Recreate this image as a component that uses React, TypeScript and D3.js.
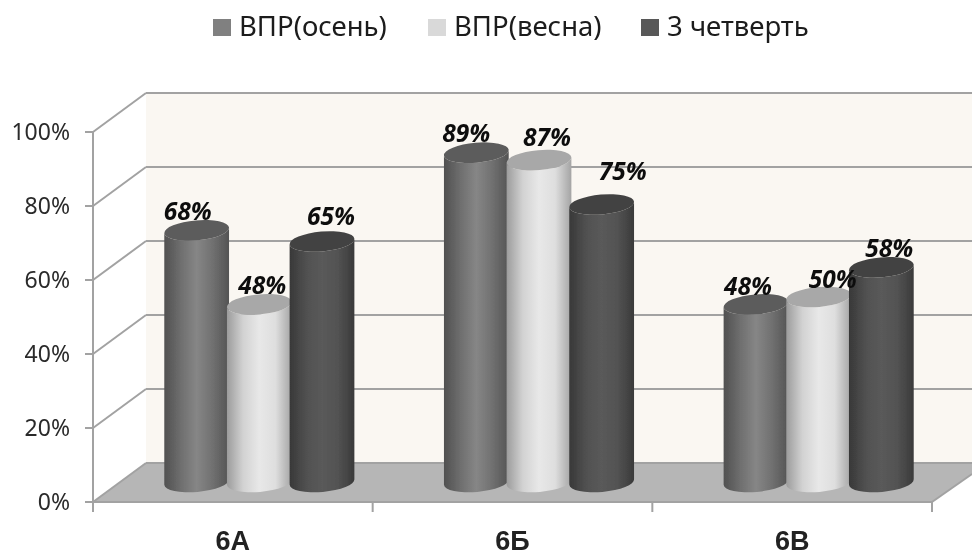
import React from "react";
import * as d3 from "d3";

const categories = ["6А", "6Б", "6В"];
const seriesNames = ["ВПР(осень)", "ВПР(весна)", "3 четверть"];
const autumn = [68, 89, 48];
const spring = [48, 87, 50];
const quarter = [65, 75, 58];
const yTicks = [0, 20, 40, 60, 80, 100];

const W = 972, H = 556;
const frontLeft = 93, frontRight = 932, frontBottom = 502, frontTop = 132;
const depthX = 53, depthY = 39;
const lineColor = "#a2a2a2";
const uiFont = "'Noto Sans', 'Open Sans', sans-serif";

const x = d3.scaleBand<string>().domain(categories).range([frontLeft, frontRight]);
const yFront = d3.scaleLinear().domain([0, 100]).range([frontBottom, frontTop]);
const yBar = d3.scaleLinear().domain([0, 100]).range([482, 112]);
const offset = d3.scaleBand<number>().domain([0, 1, 2]).range([-94, 94]);

const palettes = [
  { id: "g0", stops: ["#505050", "#6e6e6e", "#868686", "#707070", "#545454"], top: "#5c5c5c", legend: "#808080" },
  { id: "g1", stops: ["#9c9c9c", "#d2d2d2", "#e8e8e8", "#dedede", "#a4a4a4"], top: "#a8a8a8", legend: "#d9d9d9" },
  { id: "g2", stops: ["#383838", "#505050", "#5a5a5a", "#525252", "#3a3a3a"], top: "#434343", legend: "#595959" },
];
// label placement relative to the cylinder top [series][category]
const nudgeX = [[-9, -10, -8], [3, 8, 14], [9, 21, 8]];
const nudgeY = [[-19, -20, -18], [-19, -23, -18], [-25, -33, -19]];
const legendX = [213, 428, 641];
const rx = 32.5, ry = 10, tilt = -5;

export default function App() {
  const all = [autumn, spring, quarter];
  const pct = d3.format(".0f");
  const backY = (v: number) => yFront(v) - depthY;
  const floor = d3.line()([
    [frontLeft, frontBottom], [frontLeft + depthX, frontBottom - depthY],
    [W, frontBottom - depthY], [W, 474], [frontRight, frontBottom],
  ]) + "Z";
  const wall = d3.line()([
    [frontLeft + depthX, backY(100)], [W, backY(100)], [W, backY(0)], [frontLeft + depthX, backY(0)],
  ]) + "Z";
  return (
    <svg width={W} height={H} style={{ position: "absolute", left: 0, top: 0, background: "#fff" }}>
      <defs>
        {palettes.map((p) => (
          <linearGradient key={p.id} id={p.id} x1="0" x2="1" y1="0" y2="0">
            {p.stops.map((s, i) => <stop key={i} offset={i / (p.stops.length - 1)} stopColor={s} />)}
          </linearGradient>
        ))}
        <filter id="soft" x="-5%" y="-5%" width="110%" height="110%">
          <feGaussianBlur stdDeviation="0.6" />
        </filter>
        <filter id="softText" x="-10%" y="-10%" width="120%" height="120%">
          <feGaussianBlur stdDeviation="0.35" />
        </filter>
      </defs>
      <g filter="url(#soft)">
        <path d={wall} fill="#faf7f2" />
        <path d={floor} fill="#b6b6b6" />
        {yTicks.map((t) => (
          <g key={t} stroke={lineColor} strokeWidth={2} fill="none">
            <line x1={frontLeft} y1={yFront(t)} x2={frontLeft + depthX} y2={backY(t)} />
            <line x1={frontLeft + depthX} y1={backY(t)} x2={W} y2={backY(t)} />
            <line x1={frontLeft - 8} y1={yFront(t)} x2={frontLeft} y2={yFront(t)} />
          </g>
        ))}
        <line x1={frontLeft} y1={frontTop} x2={frontLeft} y2={frontBottom + 10} stroke={lineColor} strokeWidth={2} />
        <line x1={frontLeft} y1={frontBottom} x2={frontRight} y2={frontBottom} stroke={lineColor} strokeWidth={2} />
        <line x1={frontRight} y1={frontBottom} x2={W} y2={474} stroke={lineColor} strokeWidth={2} />
        {[...categories.map((c) => x(c)!), frontRight].map((tx) => (
          <line key={tx} x1={tx} x2={tx} y1={frontBottom} y2={frontBottom + 10} stroke={lineColor} strokeWidth={2} />
        ))}
        {all.map((vals, s) =>
          categories.map((c, i) => {
            const cx = x(c)! + x.bandwidth() / 2 + depthX / 2 + offset(s)! + offset.bandwidth() / 2;
            const top = yBar(vals[i]);
            const bottom = yBar(0);
            const rad = (tilt * Math.PI) / 180;
            const ex = rx * Math.cos(rad), ey = rx * Math.sin(rad);
            const body = `M${cx - ex},${top - ey} L${cx - ex},${bottom - ey} A${rx},${ry} ${tilt} 0 0 ${cx + ex},${bottom + ey} L${cx + ex},${top + ey} A${rx},${ry} ${tilt} 0 1 ${cx - ex},${top - ey}Z`;
            return (
              <g key={c + s}>
                <path d={body} fill={`url(#${palettes[s].id})`} />
                <ellipse cx={cx} cy={top} rx={rx} ry={ry} transform={`rotate(${tilt} ${cx} ${top})`} fill={palettes[s].top} />
              </g>
            );
          })
        )}
      </g>
      <g filter="url(#softText)">
        {yTicks.map((t) => (
          <text key={t} x={70} y={yFront(t)} dy="0.36em" textAnchor="end" fontFamily={uiFont} fontSize={23} fill="#2a2a2a">{t}%</text>
        ))}
        {categories.map((c) => (
          <text key={c} x={x(c)! + x.bandwidth() / 2} y={550} textAnchor="middle" fontFamily="'Liberation Sans', sans-serif" fontWeight={700} fontSize={27} fill="#222">{c}</text>
        ))}
        {all.map((vals, s) =>
          categories.map((c, i) => {
            const cx = x(c)! + x.bandwidth() / 2 + depthX / 2 + offset(s)! + offset.bandwidth() / 2;
            return (
              <text key={c + s} x={cx + nudgeX[s][i]} y={yBar(vals[i]) + nudgeY[s][i]} dy="0.36em" textAnchor="middle"
                fontFamily={uiFont} fontWeight={700} fontStyle="italic" fontSize={24.5} fill="#111">
                {pct(vals[i])}%
              </text>
            );
          })
        )}
        {seriesNames.map((n, i) => (
          <g key={n}>
            <rect x={legendX[i]} y={19} width={18} height={17} fill={palettes[i].legend} />
            <text x={legendX[i] + 26} y={36} fontFamily={uiFont} fontSize={27.5} fill="#1a1a1a">{n}</text>
          </g>
        ))}
      </g>
    </svg>
  );
}
